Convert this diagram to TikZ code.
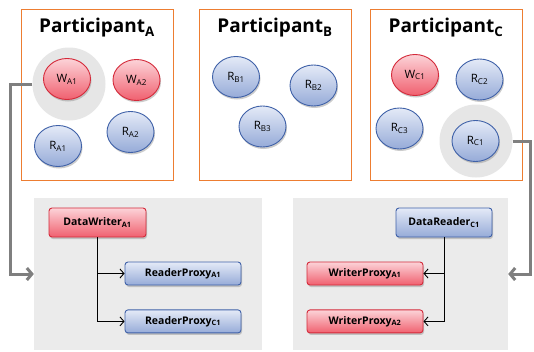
\documentclass[tikz,border=0pt]{standalone}
\usepackage{fontspec}
\setmainfont{Open Sans}
\usetikzlibrary{positioning,shapes.geometric,shadows,arrows.meta}
\definecolor{ptline}{HTML}{ED7D31}
\definecolor{wtop}{HTML}{FCD3D8}
\definecolor{wbot}{HTML}{F0606F}
\definecolor{wline}{HTML}{D42A3A}
\definecolor{rtop}{HTML}{E4EAF7}
\definecolor{rbot}{HTML}{96ABD8}
\definecolor{rline}{HTML}{3F61A8}
\definecolor{halofill}{HTML}{E6E6E6}
\definecolor{panelfill}{HTML}{EBEBEB}
\definecolor{linkgray}{HTML}{7F7F7F}
\tikzset{
  ptbox/.style={draw=ptline, thick, fill=white, minimum width=152pt, minimum height=171pt},
  pttitle/.style={font=\fontsize{19}{22}\selectfont\bfseries},
  halo/.style={circle, fill=halofill, minimum size=73pt, inner sep=0pt},
  ent/.style={ellipse, line width=0.9pt, minimum width=47pt, minimum height=41pt, inner sep=0pt,
    font=\fontsize{11.5}{12}\selectfont,
    drop shadow={opacity=0.4, shadow xshift=1pt, shadow yshift=-2pt}},
  wnode/.style={ent, draw=wline, top color=wtop, bottom color=wbot},
  rnode/.style={ent, draw=rline, top color=rtop, bottom color=rbot},
  panel/.style={fill=panelfill, minimum height=152pt},
  epbox/.style={rounded corners=3pt, line width=0.9pt, inner sep=0pt,
    font=\fontsize{10.5}{12}\selectfont\bfseries,
    drop shadow={opacity=0.4, shadow xshift=1pt, shadow yshift=-2pt}},
  wbox/.style={epbox, draw=wline, top color=wtop, bottom color=wbot},
  rbox/.style={epbox, draw=rline, top color=rtop, bottom color=rbot},
  flow/.style={-{Straight Barb[length=4pt,width=9pt]}, line width=0.9pt},
  link/.style={-{Straight Barb[length=5pt,width=12pt]}, line width=3pt, draw=linkgray}
}

\begin{document}
\begin{tikzpicture}[x=1pt, y=-1pt]
  \useasboundingbox (0,0) rectangle (534,351);

  % participants
  \node[ptbox] (pa) at (97,94.5) {};
  \node[ptbox] (pb) at (275,94.5) {};
  \node[ptbox] (pc) at (446,94.5) {};
  \node[pttitle] (ta) at (97,28) {Participant\textsubscript{A}};
  \node[pttitle] (tb) at (275,28) {Participant\textsubscript{B}};
  \node[pttitle] (tc) at (446,28) {Participant\textsubscript{C}};

  \node[halo] (haloA) at (69,84) {};
  \node[halo] (haloC) at (476,141) {};

  \node[wnode] (wa1) at (67,79) {W\textsubscript{A1}};
  \node[wnode] (wa2) at (136.5,80) {W\textsubscript{A2}};
  \node[rnode] (ra1) at (58,146) {R\textsubscript{A1}};
  \node[rnode] (ra2) at (130.5,132) {R\textsubscript{A2}};

  \node[rnode] (rb1) at (236,77) {R\textsubscript{B1}};
  \node[rnode] (rb2) at (313.5,85.5) {R\textsubscript{B2}};
  \node[rnode] (rb3) at (262.5,126.5) {R\textsubscript{B3}};

  \node[wnode] (wc1) at (415,75) {W\textsubscript{C1}};
  \node[rnode] (rc2) at (479.5,79.5) {R\textsubscript{C2}};
  \node[rnode] (rc3) at (399.5,128.5) {R\textsubscript{C3}};
  \node[rnode] (rc1) at (475.5,141) {R\textsubscript{C1}};

  % endpoint panels
  \node[panel, minimum width=228pt] (panelL) at (148,274) {};
  \node[panel, minimum width=215pt] (panelR) at (400.5,274) {};

  \node[wbox, minimum width=97pt, minimum height=29pt] (dw) at (97.5,222.5) {DataWriter\textsubscript{A1}};
  \node[rbox, minimum width=116pt, minimum height=23pt] (rpa) at (183,273.5) {ReaderProxy\textsubscript{A1}};
  \node[rbox, minimum width=116pt, minimum height=23pt, below=24pt of rpa] (rpc) {ReaderProxy\textsubscript{C1}};

  \node[rbox, minimum width=96pt, minimum height=29pt] (dr) at (444,222.5) {DataReader\textsubscript{C1}};
  \node[wbox, minimum width=116pt, minimum height=23pt] (wpa) at (365,273.5) {WriterProxy\textsubscript{A1}};
  \node[wbox, minimum width=116pt, minimum height=23pt, below=24pt of wpa] (wpb) {WriterProxy\textsubscript{A2}};

  \draw[flow] (dw.south) |- (rpa.west);
  \draw[flow] (dw.south) |- (rpc.west);
  \draw[flow] (dr.south) |- (wpa.east);
  \draw[flow] (dr.south) |- (wpb.east);

  \draw[link] (haloA.west) -- ++(-22,0) |- (panelL.west);
  \draw[link] (haloC.east) -- ++(18,0) |- (panelR.east);
\end{tikzpicture}
\end{document}
